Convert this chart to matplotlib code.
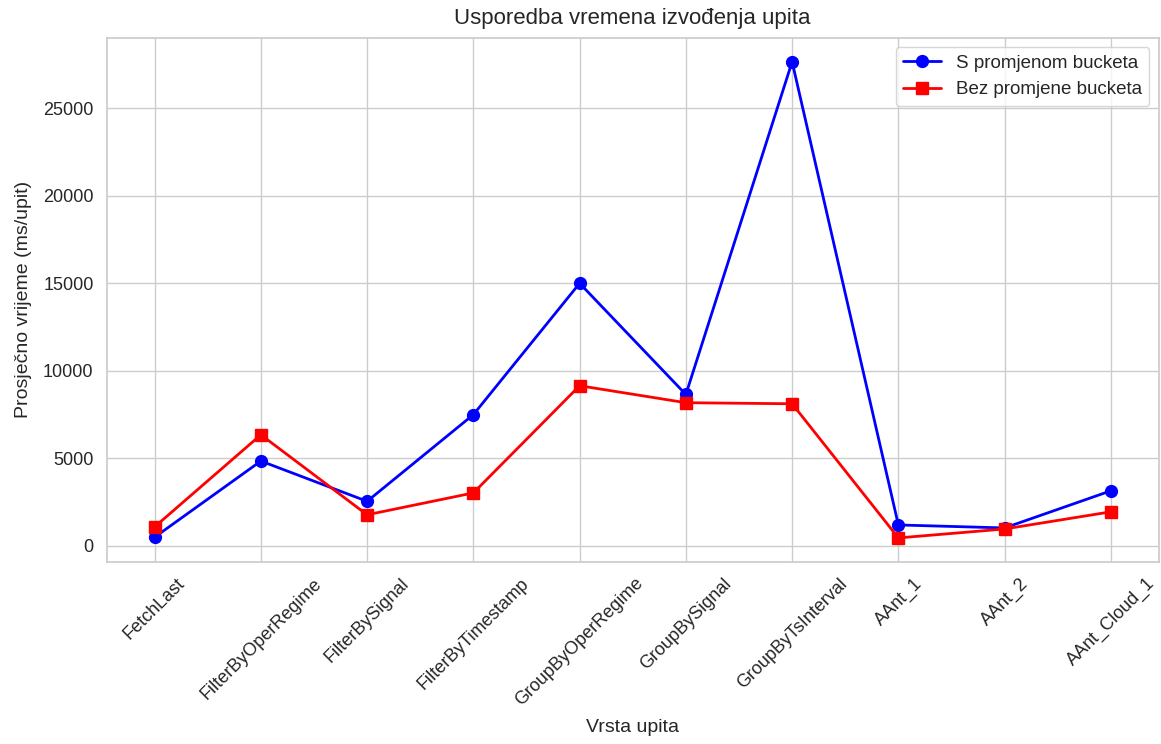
import matplotlib
matplotlib.use("Agg")
import matplotlib.pyplot as plt
import seaborn as sns

categories = ["FetchLast", "FilterByOperRegime", "FilterBySignal", "FilterByTimestamp",
              "GroupByOperRegime", "GroupBySignal", "GroupByTsInterval", "AAnt_1", "AAnt_2",
              "AAnt_Cloud_1"]
s_promjenom = [500, 4850, 2550, 7500, 15000, 8650, 27650, 1200, 1030, 3150]
bez_promjene = [1090, 6350, 1780, 3030, 9150, 8180, 8120, 460, 970, 1950]

sns.set_theme(style="whitegrid")
plt.rcParams['font.family'] = ['Liberation Sans', 'DejaVu Sans']

fig, ax = plt.subplots(figsize=(11.61, 7.44), dpi=100)
fig.subplots_adjust(left=0.092, right=0.998, top=0.949, bottom=0.245)

x = list(range(len(categories)))
ax.plot(x, s_promjenom, color="blue", marker="o", markersize=8.5, linewidth=2,
        label="S promjenom bucketa")
ax.plot(x, bez_promjene, color="red", marker="s", markersize=8.5, linewidth=2,
        label="Bez promjene bucketa")

ax.set_xticks(x)
ax.set_xticklabels(categories, rotation=45, fontsize=13)
ax.tick_params(axis='y', labelsize=13)
ax.set_xlabel("Vrsta upita", fontsize=14, labelpad=7)
ax.set_ylabel("Prosječno vrijeme (ms/upit)", fontsize=14, labelpad=8)
ax.set_title("Usporedba vremena izvođenja upita", fontsize=16, pad=10)
ax.legend(loc="upper right", fontsize=13.5)

fig.savefig("out.png", dpi=100)
